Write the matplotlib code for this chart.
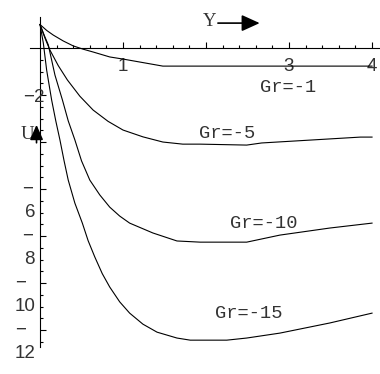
#!/usr/bin/env python3
import matplotlib
matplotlib.use("Agg")
import matplotlib.pyplot as plt
import numpy as np

# Velocity profiles U(Y) for different Grashof numbers
y_gr1 = [0, 0.08, 0.16, 0.28, 0.40, 0.52, 0.64, 0.84, 1.0, 1.24, 1.48, 4.0]
u_gr1 = [1.0, 0.75, 0.55, 0.30, 0.09, -0.05, -0.17, -0.38, -0.47, -0.62, -0.77, -0.77]

y_gr5 = [0, 0.06, 0.12, 0.22, 0.33, 0.48, 0.64, 0.82, 1.0, 1.24, 1.48, 1.72, 1.93, 2.49,
         2.67, 3.29, 3.86, 4.0]
u_gr5 = [1.0, 0.42, -0.09, -0.75, -1.36, -2.05, -2.64, -3.12, -3.49, -3.78, -4.0, -4.09,
         -4.09, -4.13, -4.04, -3.91, -3.79, -3.79]

y_gr10 = [0, 0.05, 0.10, 0.18, 0.27, 0.34, 0.42, 0.50, 0.60, 0.72, 0.84, 0.96, 1.08, 1.36,
          1.65, 1.93, 2.49, 2.89, 3.49, 4.0]
u_gr10 = [1.0, 0.55, 0.13, -1.15, -2.21, -3.10, -3.91, -4.80, -5.62, -6.25, -6.77, -7.15,
          -7.45, -7.87, -8.21, -8.26, -8.26, -7.96, -7.66, -7.45]

y_gr15 = [0, 0.04, 0.08, 0.14, 0.19, 0.24, 0.29, 0.34, 0.42, 0.51, 0.58, 0.66, 0.75, 0.84,
          0.96, 1.08, 1.24, 1.41, 1.65, 1.81, 2.25, 2.49, 2.89, 3.49, 4.0]
u_gr15 = [1.0, 0.21, -0.94, -2.21, -3.10, -3.91, -4.80, -5.62, -6.60, -7.45, -8.20, -8.89,
          -9.60, -10.17, -10.80, -11.28, -11.75, -12.09, -12.34, -12.43, -12.43, -12.34,
          -12.13, -11.70, -11.28]

curve_labels = ["Gr=-1", "Gr=-5", "Gr=-10", "Gr=-15"]
label_pos = [(2.99, -1.70), (2.25, -3.62), (2.69, -7.45), (2.51, -11.28)]

x_ticks = [1, 2, 3, 4]
x_tick_labels = ["1", "", "3", "4"]
y_ticks = [-2, -4, -6, -8, -10, -12]


def main():
    fig = plt.figure(figsize=(3.8, 3.74), dpi=100)
    ax = fig.add_axes([0, 0, 1, 1])
    ax.set_xlim(-0.482, 4.096)
    ax.set_ylim(-13.87, 2.043)

    for ys, us in [(y_gr1, u_gr1), (y_gr5, u_gr5), (y_gr10, u_gr10), (y_gr15, u_gr15)]:
        ax.plot(ys, us, color="black", lw=0.8)

    for text, (x, y) in zip(curve_labels, label_pos):
        ax.text(x, y, text, family="Liberation Mono", fontsize=13.5, color="#333333",
                ha="center", va="center")

    # axes through the origin
    for side in ["top", "right"]:
        ax.spines[side].set_visible(False)
    ax.spines["left"].set_position(("data", 0))
    ax.spines["bottom"].set_position(("data", 0))
    ax.spines["left"].set_bounds(-12.7, 1.3)
    ax.spines["bottom"].set_bounds(-0.12, 4.1)
    ax.spines["left"].set_linewidth(0.8)
    ax.spines["bottom"].set_linewidth(0.8)

    ax.set_xticks(x_ticks)
    ax.set_xticks(np.arange(0.2, 4.05, 0.2), minor=True)
    ax.set_xticklabels(x_tick_labels, family="Liberation Sans", fontsize=13.5, color="#333333")
    ax.set_yticks(y_ticks)
    ax.set_yticks(np.arange(-12.5, 0, 0.5), minor=True)
    ax.set_yticklabels([""] * len(y_ticks))
    ax.tick_params(axis="x", which="major", direction="in", length=4.5, width=0.8, pad=7)
    ax.tick_params(axis="x", which="minor", direction="in", length=2.5, width=0.8)
    ax.tick_params(axis="y", which="major", direction="in", length=4.5, width=0.8)
    ax.tick_params(axis="y", which="minor", direction="in", length=2.5, width=0.8)

    # y tick labels: minus at the tick, digits underneath (as in the original)
    ax.text(0.06, -2.1, "\u22122", family="Liberation Sans", fontsize=13.5, color="#333333",
            ha="right", va="center")
    for t in y_ticks[2:]:
        left = -0.217 if t > -10 else -0.30
        ax.text(left, t, "\u2212", family="Liberation Sans", fontsize=13.5, color="#333333",
                ha="left", va="center")
        ax.text(-0.06, t - 0.98, str(-t), family="Liberation Sans", fontsize=13.5,
                color="#333333", ha="right", va="center")

    # axis names with arrows
    ax.text(2.04, 1.11, "Y", family="Liberation Serif", fontsize=13.5, color="#333333",
            ha="center", va="center")
    ax.annotate("", xy=(2.68, 1.06), xytext=(2.11, 1.06),
                arrowprops=dict(arrowstyle="-|>,head_length=0.55,head_width=0.25",
                                mutation_scale=20, color="black", lw=1.2))
    ax.text(-0.157, -3.66, "U", family="Liberation Serif", fontsize=13.5, color="#333333",
            ha="center", va="center")
    ax.annotate("", xy=(-0.042, -3.15), xytext=(-0.042, -4.15),
                arrowprops=dict(arrowstyle="-|>,head_length=0.45,head_width=0.2",
                                mutation_scale=20, color="black", lw=1.2))

    fig.savefig("out.png", dpi=100)


if __name__ == "__main__":
    main()
